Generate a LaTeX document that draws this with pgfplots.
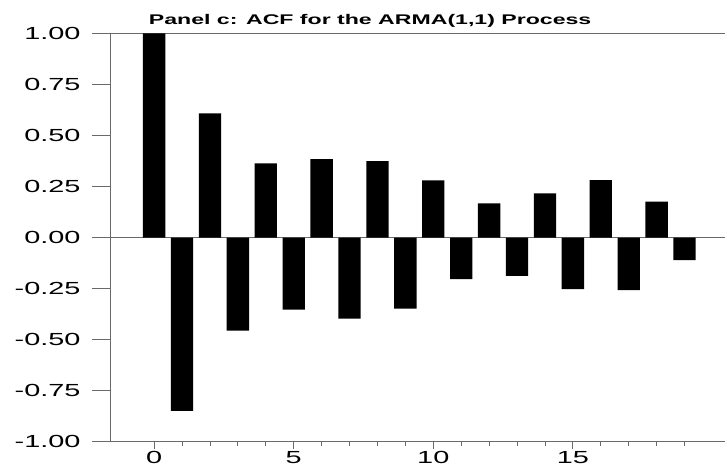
\documentclass[border=0pt]{standalone}
\usepackage{pgfplots}
\pgfplotsset{compat=1.18}
\usepackage{fontspec}
\setmainfont{Liberation Sans}
\newfontfamily\tickfont[FakeStretch=1.65]{Liberation Sans}
\newfontfamily\headfont[FakeStretch=1.65]{Liberation Sans}
\definecolor{axgray}{RGB}{105,105,105}

% sample autocorrelations, lags 0..19
\pgfplotstableread{
lag acf
0   1.000
1  -0.849
2   0.609
3  -0.456
4   0.364
5  -0.353
6   0.385
7  -0.397
8   0.375
9  -0.348
10  0.281
11 -0.203
12  0.168
13 -0.187
14  0.217
15 -0.253
16  0.282
17 -0.257
18  0.176
19 -0.110
}\acftable

\begin{document}
\begin{tikzpicture}
\begin{axis}[
  scale only axis,
  width=615pt, height=408.2pt,
  xmin=-1.58, xmax=20.45,
  ymin=-1, ymax=1,
  axis x line=bottom, axis y line=left,
  axis line style={axgray, line width=0.8pt, -},
  tick align=outside,
  major tick length=7pt, minor tick length=4.5pt,
  xtick={0,5,10,15},
  minor xtick={1,2,3,4,6,7,8,9,11,12,13,14,16,17,18,19},
  ytick={-1,-0.75,-0.5,-0.25,0,0.25,0.5,0.75,1},
  yticklabels={-1.00,-0.75,-0.50,-0.25,0.00,0.25,0.50,0.75,1.00},
  ytick style={draw=none},
  xtick style={axgray, line width=0.8pt},
  minor tick style={axgray, line width=0.8pt},
  tick label style={font=\tickfont\fontsize{17.5}{20}\selectfont},
  yticklabel style={xshift=-19pt},
  xticklabel style={yshift=1pt},
  /pgf/number format/assume math mode=true,
  clip=false,
]
  % zero line and top frame line
  \draw[axgray, line width=0.8pt] (axis cs:-1.58,0) -- (axis cs:20.45,0);
  \draw[axgray, line width=0.8pt] (rel axis cs:0,1) -- (rel axis cs:1,1);
  % long outward y ticks
  \pgfplotsinvokeforeach{-1,-0.75,-0.5,-0.25,0,0.25,0.5,0.75,1}{
    \draw[axgray, line width=0.8pt] (axis cs:-1.58,#1) -- ++(-18pt,0pt);
  }
  \addplot[ybar, bar width=22.3pt, bar shift=0pt, fill=black, draw=none]
    table[x=lag, y=acf] {\acftable};
  \node[anchor=base, inner sep=0pt, font=\headfont\bfseries\fontsize{14}{16}\selectfont]
    at (rel axis cs:0.423,1) [yshift=9.2pt] {Panel c: ACF for the ARMA(1,1) Process};
\end{axis}
\pgfresetboundingbox
\path (-110pt,-33.3pt) rectangle (615pt,441.7pt);
\end{tikzpicture}
\end{document}
